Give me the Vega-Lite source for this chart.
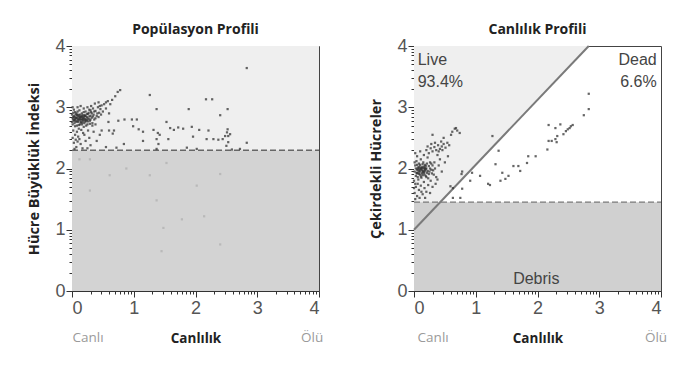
{
"$schema":"https://vega.github.io/schema/vega-lite/v6.json",
"padding":{"left":26,"top":22,"right":15,"bottom":20},
"background":"white",
"config":{"view":{"stroke":"#444","strokeWidth":1},"font":"Liberation Sans",
"axis":{"labelFont":"Liberation Sans","labelFontSize":18,"labelColor":"#555","labelPadding":1,"tickColor":"#333","domainColor":"#333","grid":false,"titleFont":"Open Sans","titleFontWeight":"bold","titleColor":"#222"}},
"datasets":{
"L":[
{"x":0.02,"y":2.80},{"x":0.03,"y":2.86},{"x":0.04,"y":2.74},{"x":0.05,"y":2.92},{"x":0.06,"y":2.78},{"x":0.07,"y":2.83},{"x":0.08,"y":2.70},{"x":0.09,"y":2.88},{"x":0.10,"y":2.76},{"x":0.11,"y":2.81},{"x":0.12,"y":2.95},{"x":0.13,"y":2.72},{"x":0.14,"y":2.85},{"x":0.15,"y":2.79},{"x":0.16,"y":2.90},{"x":0.17,"y":2.75},{"x":0.18,"y":2.83},{"x":0.19,"y":2.68},{"x":0.20,"y":2.87},{"x":0.21,"y":2.80},{"x":0.22,"y":2.93},{"x":0.23,"y":2.77},{"x":0.24,"y":2.84},{"x":0.25,"y":2.72},{"x":0.26,"y":2.89},{"x":0.27,"y":2.81},{"x":0.28,"y":2.96},{"x":0.29,"y":2.78},{"x":0.30,"y":2.86},{"x":0.31,"y":2.92},{"x":0.32,"y":2.83},{"x":0.33,"y":2.74},{"x":0.34,"y":2.98},{"x":0.35,"y":2.88},{"x":0.36,"y":2.80},{"x":0.38,"y":2.94},{"x":0.40,"y":2.86},{"x":0.42,"y":3.00},{"x":0.44,"y":2.91},{"x":0.46,"y":2.97},{"x":0.48,"y":3.03},{"x":0.50,"y":2.93},{"x":0.52,"y":3.05},{"x":0.55,"y":2.98},
{"x":0.01,"y":2.72},{"x":0.02,"y":2.91},{"x":0.03,"y":2.78},{"x":0.04,"y":2.84},{"x":0.05,"y":2.69},{"x":0.06,"y":2.88},{"x":0.07,"y":2.76},{"x":0.08,"y":2.82},{"x":0.09,"y":2.93},{"x":0.10,"y":2.85},{"x":0.11,"y":2.71},{"x":0.12,"y":2.79},{"x":0.13,"y":2.88},{"x":0.14,"y":2.76},{"x":0.15,"y":2.84},{"x":0.16,"y":2.72},{"x":0.17,"y":2.87},{"x":0.18,"y":2.78},{"x":0.19,"y":2.92},{"x":0.20,"y":2.74},{"x":0.21,"y":2.86},{"x":0.22,"y":2.80},{"x":0.23,"y":2.70},{"x":0.24,"y":2.89},{"x":0.25,"y":2.82},{"x":0.26,"y":2.77},{"x":0.27,"y":2.91},{"x":0.28,"y":2.85},{"x":0.29,"y":2.73},{"x":0.30,"y":2.80},{"x":0.32,"y":2.90},{"x":0.34,"y":2.85},{"x":0.36,"y":2.93},{"x":0.38,"y":2.82},{"x":0.41,"y":2.90},{"x":0.43,"y":2.84},{"x":0.45,"y":3.02},{"x":0.47,"y":2.88},
{"x":0.02,"y":2.84},{"x":0.04,"y":2.79},{"x":0.06,"y":2.83},{"x":0.08,"y":2.87},{"x":0.10,"y":2.80},{"x":0.12,"y":2.84},{"x":0.14,"y":2.81},{"x":0.16,"y":2.85},{"x":0.18,"y":2.80},{"x":0.20,"y":2.82},{"x":0.22,"y":2.86},{"x":0.24,"y":2.79},{"x":0.05,"y":2.81},{"x":0.09,"y":2.78},{"x":0.13,"y":2.83},{"x":0.17,"y":2.81},{"x":0.21,"y":2.77},{"x":0.11,"y":2.87},{"x":0.15,"y":2.75},{"x":0.19,"y":2.85},{"x":0.07,"y":2.90},{"x":0.03,"y":2.96},{"x":0.01,"y":3.00},{"x":0.00,"y":2.88},{"x":0.00,"y":2.76},{"x":0.01,"y":2.82},{"x":0.09,"y":3.00},{"x":0.14,"y":3.02},{"x":0.19,"y":2.98},{"x":0.25,"y":3.00},{"x":0.31,"y":3.02},{"x":0.37,"y":3.06},{"x":0.43,"y":3.08},{"x":0.30,"y":2.95},
{"x":0.02,"y":2.62},{"x":0.05,"y":2.55},{"x":0.08,"y":2.60},{"x":0.12,"y":2.48},{"x":0.15,"y":2.63},{"x":0.03,"y":2.42},{"x":0.07,"y":2.35},{"x":0.10,"y":2.52},{"x":0.18,"y":2.58},{"x":0.22,"y":2.45},{"x":0.26,"y":2.62},{"x":0.30,"y":2.38},{"x":0.04,"y":2.32},{"x":0.14,"y":2.40},{"x":0.20,"y":2.55},{"x":0.35,"y":2.60},{"x":0.28,"y":2.50},{"x":0.01,"y":2.50},{"x":0.09,"y":2.44},{"x":0.17,"y":2.33},{"x":0.40,"y":2.45},{"x":0.45,"y":2.55},{"x":0.33,"y":2.70},{"x":0.48,"y":2.62},{"x":0.55,"y":2.35},{"x":0.60,"y":2.62},{"x":0.25,"y":2.33},{"x":0.06,"y":2.47},{"x":0.11,"y":2.65},{"x":0.38,"y":2.72},
{"x":0.62,"y":3.05},{"x":0.65,"y":3.12},{"x":0.70,"y":3.18},{"x":0.74,"y":3.25},{"x":0.78,"y":3.28},{"x":0.58,"y":3.10},{"x":0.55,"y":3.08},{"x":0.68,"y":2.62},{"x":0.60,"y":2.90},
{"x":1.26,"y":3.20},{"x":1.37,"y":2.97},{"x":1.89,"y":2.97},{"x":2.17,"y":3.13},{"x":2.27,"y":3.13},{"x":2.52,"y":2.97},{"x":2.83,"y":3.64},{"x":2.40,"y":2.87},{"x":2.83,"y":2.42},
{"x":0.75,"y":2.78},{"x":0.85,"y":2.80},{"x":0.97,"y":2.80},{"x":1.05,"y":2.80},{"x":1.08,"y":2.64},{"x":1.39,"y":2.58},{"x":1.42,"y":2.55},{"x":1.59,"y":2.66},{"x":1.65,"y":2.63},{"x":1.72,"y":2.67},{"x":1.80,"y":2.65},{"x":1.94,"y":2.68},{"x":1.96,"y":2.52},{"x":2.06,"y":2.63},{"x":2.18,"y":2.48},{"x":2.21,"y":2.62},{"x":2.29,"y":2.48},{"x":2.37,"y":2.47},{"x":2.44,"y":2.48},{"x":2.48,"y":2.53},{"x":2.51,"y":2.59},{"x":2.52,"y":2.64},{"x":2.53,"y":2.43},{"x":2.50,"y":2.37},{"x":1.37,"y":2.48},{"x":1.15,"y":2.45},{"x":1.40,"y":2.40},{"x":1.56,"y":2.48},{"x":0.99,"y":2.69},{"x":0.66,"y":2.57},{"x":0.59,"y":2.76},{"x":1.53,"y":2.76},{"x":1.15,"y":2.60},{"x":1.32,"y":2.63},{"x":2.53,"y":2.53},{"x":2.56,"y":2.56},{"x":0.84,"y":2.40},
{"x":1.37,"y":2.32},{"x":2.59,"y":2.31},{"x":2.72,"y":2.32},{"x":2.02,"y":2.32},{"x":1.86,"y":2.34},{"x":0.72,"y":2.34}
],
"Lf":[
{"x":0.12,"y":2.15},{"x":0.29,"y":2.15},{"x":0.29,"y":1.64},{"x":0.61,"y":1.89},{"x":1.37,"y":1.48},{"x":1.48,"y":1.03},{"x":1.45,"y":0.65},{"x":1.78,"y":1.17},{"x":2.02,"y":1.72},{"x":2.40,"y":1.91},{"x":2.40,"y":0.76},{"x":1.53,"y":2.09},{"x":0.88,"y":2.00},{"x":1.26,"y":1.89},{"x":2.14,"y":1.22}
],
"R":[
{"x":0.01,"y":1.95},{"x":0.02,"y":2.05},{"x":0.03,"y":1.88},{"x":0.04,"y":2.12},{"x":0.05,"y":1.92},{"x":0.06,"y":2.00},{"x":0.07,"y":1.82},{"x":0.08,"y":2.08},{"x":0.09,"y":1.96},{"x":0.10,"y":1.90},{"x":0.11,"y":2.15},{"x":0.12,"y":1.85},{"x":0.13,"y":2.02},{"x":0.14,"y":1.94},{"x":0.15,"y":2.10},{"x":0.16,"y":1.78},{"x":0.17,"y":1.99},{"x":0.18,"y":2.06},{"x":0.19,"y":1.88},{"x":0.20,"y":2.00},{"x":0.21,"y":1.93},{"x":0.22,"y":2.18},{"x":0.23,"y":1.84},{"x":0.24,"y":2.04},{"x":0.25,"y":1.95},{"x":0.26,"y":2.10},{"x":0.27,"y":1.80},{"x":0.28,"y":1.98},{"x":0.30,"y":2.05},{"x":0.32,"y":1.90},{"x":0.34,"y":2.00},{"x":0.36,"y":1.86},
{"x":0.00,"y":1.80},{"x":0.01,"y":2.10},{"x":0.02,"y":1.75},{"x":0.03,"y":2.00},{"x":0.04,"y":1.93},{"x":0.05,"y":2.06},{"x":0.06,"y":1.86},{"x":0.07,"y":1.97},{"x":0.08,"y":1.91},{"x":0.09,"y":2.03},{"x":0.10,"y":1.98},{"x":0.11,"y":1.87},{"x":0.12,"y":2.01},{"x":0.13,"y":1.92},{"x":0.14,"y":2.07},{"x":0.15,"y":1.96},{"x":0.16,"y":2.03},{"x":0.17,"y":1.90},{"x":0.18,"y":1.97},{"x":0.19,"y":2.04},{"x":0.20,"y":1.86},{"x":0.21,"y":2.08},{"x":0.22,"y":1.96},{"x":0.24,"y":1.91},{"x":0.26,"y":2.00},{"x":0.28,"y":2.08},{"x":0.31,"y":1.97},{"x":0.33,"y":2.10},{"x":0.29,"y":1.92},
{"x":0.05,"y":1.98},{"x":0.07,"y":2.02},{"x":0.09,"y":1.94},{"x":0.11,"y":2.00},{"x":0.13,"y":1.97},{"x":0.15,"y":2.01},{"x":0.17,"y":1.95},{"x":0.19,"y":1.99},{"x":0.10,"y":2.06},{"x":0.14,"y":1.89},{"x":0.06,"y":1.93},{"x":0.18,"y":2.01},{"x":0.12,"y":1.99},{"x":0.08,"y":2.00},{"x":0.16,"y":1.93},
{"x":0.01,"y":1.60},{"x":0.03,"y":1.70},{"x":0.05,"y":1.55},{"x":0.08,"y":1.65},{"x":0.11,"y":1.72},{"x":0.14,"y":1.58},{"x":0.17,"y":1.68},{"x":0.20,"y":1.62},{"x":0.23,"y":1.73},{"x":0.02,"y":1.50},{"x":0.09,"y":1.52},{"x":0.26,"y":1.60},{"x":0.30,"y":1.70},{"x":0.12,"y":1.62},{"x":0.06,"y":1.75},{"x":0.00,"y":1.68},{"x":0.18,"y":1.52},{"x":0.35,"y":1.75},
{"x":0.02,"y":2.25},{"x":0.05,"y":2.20},{"x":0.10,"y":2.28},{"x":0.16,"y":2.22},{"x":0.20,"y":2.30},{"x":0.24,"y":2.25},{"x":0.27,"y":2.33},{"x":0.30,"y":2.28},{"x":0.33,"y":2.35},{"x":0.36,"y":2.30},{"x":0.39,"y":2.38},{"x":0.42,"y":2.32},{"x":0.45,"y":2.36},{"x":0.48,"y":2.40},{"x":0.51,"y":2.34},{"x":0.54,"y":2.42},{"x":0.57,"y":2.38},{"x":0.28,"y":2.40},{"x":0.34,"y":2.42},{"x":0.40,"y":2.28},{"x":0.46,"y":2.30},{"x":0.22,"y":2.36},{"x":0.38,"y":2.22},{"x":0.44,"y":2.44},
{"x":0.40,"y":2.05},{"x":0.45,"y":1.95},{"x":0.38,"y":1.82},{"x":0.42,"y":2.15},{"x":0.50,"y":2.10},{"x":0.55,"y":2.20},
{"x":0.62,"y":2.60},{"x":0.66,"y":2.65},{"x":0.70,"y":2.62},{"x":0.74,"y":2.58},{"x":0.60,"y":2.55},{"x":0.68,"y":2.66},{"x":0.30,"y":2.55},{"x":0.48,"y":2.50},
{"x":1.27,"y":2.53},{"x":1.37,"y":2.29},{"x":1.32,"y":2.07},{"x":1.20,"y":1.75},{"x":1.23,"y":1.73},{"x":1.07,"y":1.88},{"x":0.94,"y":1.93},{"x":0.91,"y":1.80},{"x":0.78,"y":1.95},{"x":0.63,"y":1.68},{"x":0.75,"y":1.52},{"x":1.40,"y":1.80},{"x":1.43,"y":1.93},{"x":1.48,"y":1.83},{"x":1.53,"y":1.88},{"x":1.61,"y":2.04},{"x":1.69,"y":2.04},{"x":1.72,"y":1.96},{"x":1.83,"y":2.09},{"x":1.85,"y":2.20},{"x":1.97,"y":2.20},{"x":2.16,"y":2.31},{"x":2.18,"y":2.45},{"x":2.23,"y":2.45},{"x":2.29,"y":2.48},{"x":2.31,"y":2.43},{"x":2.37,"y":2.72},{"x":2.42,"y":2.56},{"x":2.46,"y":2.61},{"x":2.49,"y":2.64},{"x":2.52,"y":2.66},{"x":2.54,"y":2.69},{"x":2.57,"y":2.71},{"x":2.18,"y":2.71},{"x":2.29,"y":2.66},{"x":2.75,"y":2.87},{"x":2.83,"y":2.97},{"x":2.32,"y":2.53},{"x":2.83,"y":3.22},{"x":0.77,"y":1.91},{"x":0.78,"y":1.67},{"x":0.63,"y":1.52},{"x":0.59,"y":1.71}
]
},
"hconcat":[
{
"width":247,"height":245,
"title":{"text":"Popülasyon Profili","font":"Open Sans","fontSize":14,"fontWeight":"bold","color":"#222","offset":0},
"resolve":{"axis":{"x":"independent","y":"independent"}},
"layer":[
{"data":{"values":[{"x":0,"x2":4,"y":2.3,"y2":4}]},"mark":{"type":"rect","fill":"#efefef"},
"encoding":{
"x":{"field":"x","type":"quantitative","scale":{"domain":[0,4],"nice":false},"axis":{"values":[0,0.301,0.477,0.602,0.699,0.778,0.845,0.903,0.954,1,1.301,1.477,1.602,1.699,1.778,1.845,1.903,1.954,2,2.301,2.477,2.602,2.699,2.778,2.845,2.903,2.954,3,3.301,3.477,3.602,3.699,3.778,3.845,3.903,3.954,4],"labelExpr":"datum.value % 1 == 0 ? datum.value : ''","labelOverlap":false,"labelPadding":2,"tickSize":{"condition":{"test":"datum.value % 1 == 0","value":6},"value":3},"title":"Canlılık","titleFontSize":13.5,"titlePadding":14,"orient":"bottom"}},
"x2":{"field":"x2"},
"y":{"field":"y","type":"quantitative","scale":{"domain":[0,4],"nice":false},"axis":{"values":[0,0.301,0.477,0.602,0.699,0.778,0.845,0.903,0.954,1,1.301,1.477,1.602,1.699,1.778,1.845,1.903,1.954,2,2.301,2.477,2.602,2.699,2.778,2.845,2.903,2.954,3,3.301,3.477,3.602,3.699,3.778,3.845,3.903,3.954,4],"labelExpr":"datum.value % 1 == 0 ? datum.value : ''","labelOverlap":false,"tickSize":{"condition":{"test":"datum.value % 1 == 0","value":6},"value":3},"title":"Hücre Büyüklük İndeksi","titleFontSize":14.5,"titlePadding":13,"orient":"left"}},
"y2":{"field":"y2"}}},
{"data":{"values":[{"x":0,"x2":4,"y":0,"y2":2.3}]},"mark":{"type":"rect","fill":"#d3d3d3"},
"encoding":{"x":{"field":"x","type":"quantitative","axis":null},"x2":{"field":"x2"},"y":{"field":"y","type":"quantitative","axis":null},"y2":{"field":"y2"}}},
{"data":{"name":"Lf"},"mark":{"type":"square","size":5,"opacity":1,"color":"#b9b9b9"},
"encoding":{"x":{"field":"x","type":"quantitative","axis":null},"y":{"field":"y","type":"quantitative","axis":null}}},
{"data":{"values":[{"x":0,"x2":4,"y":2.3}]},"mark":{"type":"rule","color":"#666","strokeDash":[6,3],"strokeWidth":1.5},
"encoding":{"x":{"field":"x","type":"quantitative","axis":null},"x2":{"field":"x2"},"y":{"field":"y","type":"quantitative","axis":null}}},
{"data":{"name":"L"},"mark":{"type":"square","size":5,"opacity":0.75,"color":"#333"},
"encoding":{"x":{"field":"x","type":"quantitative","axis":null},"y":{"field":"y","type":"quantitative","axis":null}}},
{"data":{"values":[{"t":"Canlı","x":0.26,"y":-0.77},{"t":"Ölü","x":3.89,"y":-0.77}]},"mark":{"type":"text","font":"Open Sans","fontSize":13.5,"color":"#9a9a9a","baseline":"middle","align":"center"},
"encoding":{"x":{"field":"x","type":"quantitative","axis":null},"y":{"field":"y","type":"quantitative","axis":null},"text":{"field":"t"}}}
]
},
{
"width":247,"height":245,
"title":{"text":"Canlılık Profili","font":"Open Sans","fontSize":14,"fontWeight":"bold","color":"#222","offset":0},
"resolve":{"axis":{"x":"independent","y":"independent"}},
"layer":[
{"data":{"values":[{"x":0,"y":1,"y2":4},{"x":2.83,"y":4,"y2":4}]},"mark":{"type":"area","fill":"#efefef"},
"encoding":{
"x":{"field":"x","type":"quantitative","scale":{"domain":[0,4],"nice":false},"axis":{"values":[0,0.301,0.477,0.602,0.699,0.778,0.845,0.903,0.954,1,1.301,1.477,1.602,1.699,1.778,1.845,1.903,1.954,2,2.301,2.477,2.602,2.699,2.778,2.845,2.903,2.954,3,3.301,3.477,3.602,3.699,3.778,3.845,3.903,3.954,4],"labelExpr":"datum.value % 1 == 0 ? datum.value : ''","labelOverlap":false,"labelPadding":2,"tickSize":{"condition":{"test":"datum.value % 1 == 0","value":6},"value":3},"title":"Canlılık","titleFontSize":13.5,"titlePadding":14,"orient":"bottom"}},
"y":{"field":"y","type":"quantitative","scale":{"domain":[0,4],"nice":false},"axis":{"values":[0,0.301,0.477,0.602,0.699,0.778,0.845,0.903,0.954,1,1.301,1.477,1.602,1.699,1.778,1.845,1.903,1.954,2,2.301,2.477,2.602,2.699,2.778,2.845,2.903,2.954,3,3.301,3.477,3.602,3.699,3.778,3.845,3.903,3.954,4],"labelExpr":"datum.value % 1 == 0 ? datum.value : ''","labelOverlap":false,"tickSize":{"condition":{"test":"datum.value % 1 == 0","value":6},"value":3},"title":"Çekirdekli Hücreler","titleFontSize":14.5,"titlePadding":13,"orient":"left"}},
"y2":{"field":"y2"}}},
{"data":{"values":[{"x":0,"x2":4,"y":0,"y2":1.45}]},"mark":{"type":"rect","fill":"#d0d0d0"},
"encoding":{"x":{"field":"x","type":"quantitative","axis":null},"x2":{"field":"x2"},"y":{"field":"y","type":"quantitative","axis":null},"y2":{"field":"y2"}}},
{"data":{"values":[{"x":0,"x2":4,"y":1.45}]},"mark":{"type":"rule","color":"#777","strokeDash":[6,3],"strokeWidth":1.2},
"encoding":{"x":{"field":"x","type":"quantitative","axis":null},"x2":{"field":"x2"},"y":{"field":"y","type":"quantitative","axis":null}}},
{"data":{"values":[{"x":0,"y":1,"x2":2.83,"y2":4}]},"mark":{"type":"rule","color":"#7a7a7a","strokeWidth":2},
"encoding":{"x":{"field":"x","type":"quantitative","axis":null},"x2":{"field":"x2"},"y":{"field":"y","type":"quantitative","axis":null},"y2":{"field":"y2"}}},
{"data":{"name":"R"},"mark":{"type":"square","size":5,"opacity":0.75,"color":"#333"},
"encoding":{"x":{"field":"x","type":"quantitative","axis":null},"y":{"field":"y","type":"quantitative","axis":null}}},
{"data":{"values":[{"t":"Live","x":0.06,"y":3.77},{"t":"93.4%","x":0.06,"y":3.41}]},"mark":{"type":"text","font":"Liberation Sans","fontSize":16,"color":"#444","baseline":"middle","align":"left"},
"encoding":{"x":{"field":"x","type":"quantitative","axis":null},"y":{"field":"y","type":"quantitative","axis":null},"text":{"field":"t"}}},
{"data":{"values":[{"t":"Dead","x":3.93,"y":3.77},{"t":"6.6%","x":3.93,"y":3.41}]},"mark":{"type":"text","font":"Liberation Sans","fontSize":16,"color":"#444","baseline":"middle","align":"right"},
"encoding":{"x":{"field":"x","type":"quantitative","axis":null},"y":{"field":"y","type":"quantitative","axis":null},"text":{"field":"t"}}},
{"data":{"values":[{"t":"Debris","x":1.98,"y":0.2}]},"mark":{"type":"text","font":"Liberation Sans","fontSize":16,"color":"#444","baseline":"middle","align":"center"},
"encoding":{"x":{"field":"x","type":"quantitative","axis":null},"y":{"field":"y","type":"quantitative","axis":null},"text":{"field":"t"}}},
{"data":{"values":[{"t":"Canlı","x":0.31,"y":-0.77},{"t":"Ölü","x":3.92,"y":-0.77}]},"mark":{"type":"text","font":"Open Sans","fontSize":13.5,"color":"#9a9a9a","baseline":"middle","align":"center"},
"encoding":{"x":{"field":"x","type":"quantitative","axis":null},"y":{"field":"y","type":"quantitative","axis":null},"text":{"field":"t"}}}
]
}
],
"spacing":95,
"bounds":"flush"
}
